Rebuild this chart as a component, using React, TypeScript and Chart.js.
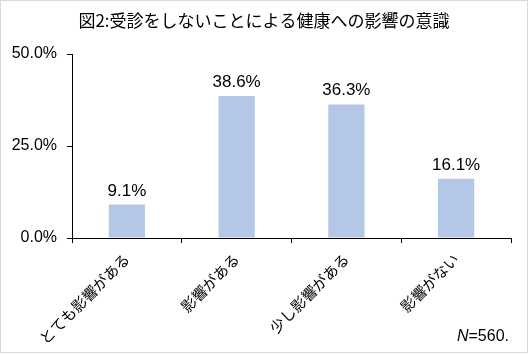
import React, { useEffect, useRef } from "react";
import { Chart, registerables } from "chart.js";

Chart.register(...registerables);

const titleText = "図2:受診をしないことによる健康への影響の意識";
const categories = ["とても影響がある", "影響がある", "少し影響がある", "影響がない"];
const values = [9.1, 38.6, 36.3, 16.1];
const yTicks = [0, 25, 50];
const sampleLabelItalic = "N";
const sampleLabelRest = "=560.";

const LATIN = '"Liberation Sans", "DejaVu Sans", sans-serif';
const CJK = '"Noto Sans CJK JP", sans-serif';

const overlayPlugin = {
  id: "overlay",
  afterDraw(chart: any) {
    const ctx = chart.ctx;
    ctx.save();
    // outer border
    ctx.strokeStyle = "#d9d9d9";
    ctx.lineWidth = 1;
    ctx.strokeRect(0.5, 0.5, 527, 352);
    // title
    ctx.fillStyle = "#000";
    ctx.font = `17px ${CJK}`;
    ctx.textAlign = "center";
    ctx.textBaseline = "middle";
    ctx.fillText(titleText, 264, 21);
    // data labels
    const meta = chart.getDatasetMeta(0);
    ctx.font = `17px ${LATIN}`;
    ctx.textBaseline = "alphabetic";
    meta.data.forEach((bar: any, i: number) => {
      ctx.fillText(values[i].toFixed(1) + "%", bar.x, bar.y - 9);
    });
    // N label
    ctx.textAlign = "left";
    ctx.font = `16px ${LATIN}`;
    const restW = ctx.measureText(sampleLabelRest).width;
    ctx.font = `italic 16px ${LATIN}`;
    const nW = ctx.measureText(sampleLabelItalic).width;
    const right = 509;
    const x0 = right - restW - nW;
    ctx.fillText(sampleLabelItalic, x0, 341);
    ctx.font = `16px ${LATIN}`;
    ctx.fillText(sampleLabelRest, x0 + nW, 341);
    ctx.restore();
  },
};

export default function App() {
  const ref = useRef<HTMLCanvasElement | null>(null);
  useEffect(() => {
    if (!ref.current) return;
    const chart = new Chart(ref.current, {
      type: "bar",
      data: {
        labels: categories,
        datasets: [
          {
            data: values,
            backgroundColor: "#b4c7e7",
            categoryPercentage: 1,
            barPercentage: 0.33,
          },
        ],
      },
      options: {
        animation: false,
        responsive: false,
        maintainAspectRatio: false,
        layout: { padding: { top: 54, left: 0, right: 20, bottom: 0 } },
        plugins: { legend: { display: false }, tooltip: { enabled: false }, title: { display: false } },
        scales: {
          x: {
            grid: {
              display: true,
              drawOnChartArea: false,
              drawTicks: true,
              tickLength: 5,
              color: "#000",
              offset: true,
            },
            border: { display: true, color: "#000" },
            ticks: {
              maxRotation: 45,
              minRotation: 45,
              color: "#000",
              padding: 7,
              font: { family: CJK, size: 15 },
            },
            afterFit(scale: any) {
              scale.height = 117;
            },
          },
          y: {
            min: 0,
            max: 50,
            afterBuildTicks(scale: any) {
              scale.ticks = yTicks.map((v) => ({ value: v }));
            },
            grid: {
              display: true,
              drawOnChartArea: false,
              drawTicks: true,
              tickLength: 5,
              color: "#000",
            },
            border: { display: true, color: "#000" },
            ticks: {
              color: "#000",
              padding: 10,
              font: { family: LATIN, size: 16 },
              callback: (v: any) => Number(v).toFixed(1) + "%",
            },
            afterFit(scale: any) {
              scale.width = 72;
            },
          },
        },
      },
      plugins: [overlayPlugin],
    });
    return () => chart.destroy();
  }, []);
  return (
    <div style={{ position: "fixed", left: 0, top: 0, width: 531, height: 355, background: "#fff" }}>
      <canvas ref={ref} width={531} height={355} style={{ width: 531, height: 355 }} />
    </div>
  );
}
